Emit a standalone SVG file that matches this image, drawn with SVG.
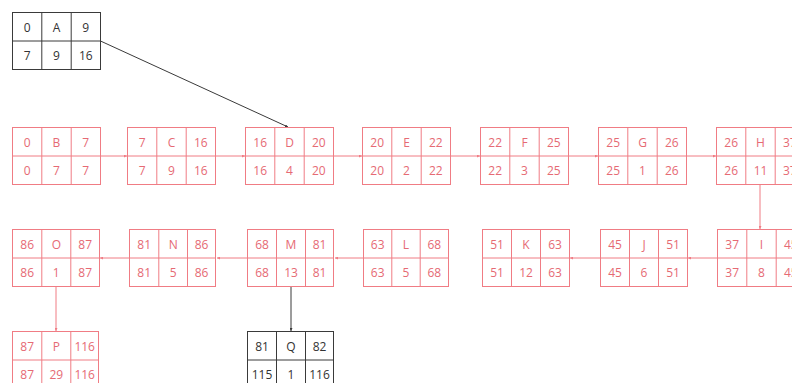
<svg xmlns="http://www.w3.org/2000/svg" width="792" height="383" viewBox="0 0 792 383">
<style>
  .bg{fill:#ffffff}
  .r rect,.r line{fill:none;stroke:#f07c84;stroke-width:1}
  .r text{fill:#e66a74}
  .k rect,.k line{fill:none;stroke:#3a3a3a;stroke-width:1}
  .k text{fill:#333333}
  text{font-family:"Open Sans","Noto Sans","Liberation Sans",sans-serif;font-size:12px;text-anchor:middle;dominant-baseline:central}
  .cr{stroke:#f07c84;stroke-width:1;fill:none;marker-end:url(#ar)}
  .ck{stroke:#3a3a3a;stroke-width:1;fill:none;marker-end:url(#ak)}
</style>
<defs>
  <marker id="ar" viewBox="0 0 6 6" refX="6" refY="3" markerWidth="3" markerHeight="3" orient="auto"><path d="M0,0 L6,3 L0,6 z" fill="#f07c84"/></marker>
  <marker id="ak" viewBox="0 0 6 6" refX="6" refY="3" markerWidth="3" markerHeight="3" orient="auto"><path d="M0,0 L6,3 L0,6 z" fill="#3a3a3a"/></marker>
</defs>
<rect class="bg" x="0" y="0" width="792" height="383"/>

<g id="connectors">
  <path class="ck" d="M100.5,41 L288,127"/>
  <path class="cr" d="M100.5,156 L127,156"/>
  <path class="cr" d="M215.5,156 L245,156"/>
  <path class="cr" d="M333.5,156 L362,156"/>
  <path class="cr" d="M450.5,156 L480,156"/>
  <path class="cr" d="M568.5,156 L598,156"/>
  <path class="cr" d="M686.5,156 L716,156"/>
  <path class="cr" d="M760,185 L760,229"/>
  <path class="cr" d="M717,258 L688,258"/>
  <path class="cr" d="M600,258 L570,258"/>
  <path class="cr" d="M363,258 L335,258"/>
  <path class="cr" d="M247,258 L217,258"/>
  <path class="cr" d="M129,258 L100,258"/>
  <path class="cr" d="M56,287 L56,331"/>
  <path class="ck" d="M291,287 L291,331"/>
</g>

<g id="node-A" class="k" transform="translate(12.5,12.5)">
  <rect width="88" height="57"/><line x1="0" y1="28.5" x2="88" y2="28.5"/><line x1="29.3" y1="0" x2="29.3" y2="57"/><line x1="58.7" y1="0" x2="58.7" y2="57"/>
  <text x="14.7" y="14.5">0</text><text x="44" y="14.5">A</text><text x="73.3" y="14.5">9</text>
  <text x="14.7" y="43">7</text><text x="44" y="43">9</text><text x="73.3" y="43">16</text>
</g>

<g id="node-B" class="r" transform="translate(12.5,127.5)">
  <rect width="88" height="57"/><line x1="0" y1="28.5" x2="88" y2="28.5"/><line x1="29.3" y1="0" x2="29.3" y2="57"/><line x1="58.7" y1="0" x2="58.7" y2="57"/>
  <text x="14.7" y="14.5">0</text><text x="44" y="14.5">B</text><text x="73.3" y="14.5">7</text>
  <text x="14.7" y="43">0</text><text x="44" y="43">7</text><text x="73.3" y="43">7</text>
</g>
<g id="node-C" class="r" transform="translate(127.5,127.5)">
  <rect width="88" height="57"/><line x1="0" y1="28.5" x2="88" y2="28.5"/><line x1="29.3" y1="0" x2="29.3" y2="57"/><line x1="58.7" y1="0" x2="58.7" y2="57"/>
  <text x="14.7" y="14.5">7</text><text x="44" y="14.5">C</text><text x="73.3" y="14.5">16</text>
  <text x="14.7" y="43">7</text><text x="44" y="43">9</text><text x="73.3" y="43">16</text>
</g>
<g id="node-D" class="r" transform="translate(245.5,127.5)">
  <rect width="88" height="57"/><line x1="0" y1="28.5" x2="88" y2="28.5"/><line x1="29.3" y1="0" x2="29.3" y2="57"/><line x1="58.7" y1="0" x2="58.7" y2="57"/>
  <text x="14.7" y="14.5">16</text><text x="44" y="14.5">D</text><text x="73.3" y="14.5">20</text>
  <text x="14.7" y="43">16</text><text x="44" y="43">4</text><text x="73.3" y="43">20</text>
</g>
<g id="node-E" class="r" transform="translate(362.5,127.5)">
  <rect width="88" height="57"/><line x1="0" y1="28.5" x2="88" y2="28.5"/><line x1="29.3" y1="0" x2="29.3" y2="57"/><line x1="58.7" y1="0" x2="58.7" y2="57"/>
  <text x="14.7" y="14.5">20</text><text x="44" y="14.5">E</text><text x="73.3" y="14.5">22</text>
  <text x="14.7" y="43">20</text><text x="44" y="43">2</text><text x="73.3" y="43">22</text>
</g>
<g id="node-F" class="r" transform="translate(480.5,127.5)">
  <rect width="88" height="57"/><line x1="0" y1="28.5" x2="88" y2="28.5"/><line x1="29.3" y1="0" x2="29.3" y2="57"/><line x1="58.7" y1="0" x2="58.7" y2="57"/>
  <text x="14.7" y="14.5">22</text><text x="44" y="14.5">F</text><text x="73.3" y="14.5">25</text>
  <text x="14.7" y="43">22</text><text x="44" y="43">3</text><text x="73.3" y="43">25</text>
</g>
<g id="node-G" class="r" transform="translate(598.5,127.5)">
  <rect width="88" height="57"/><line x1="0" y1="28.5" x2="88" y2="28.5"/><line x1="29.3" y1="0" x2="29.3" y2="57"/><line x1="58.7" y1="0" x2="58.7" y2="57"/>
  <text x="14.7" y="14.5">25</text><text x="44" y="14.5">G</text><text x="73.3" y="14.5">26</text>
  <text x="14.7" y="43">25</text><text x="44" y="43">1</text><text x="73.3" y="43">26</text>
</g>
<g id="node-H" class="r" transform="translate(716.5,127.5)">
  <rect width="88" height="57"/><line x1="0" y1="28.5" x2="88" y2="28.5"/><line x1="29.3" y1="0" x2="29.3" y2="57"/><line x1="58.7" y1="0" x2="58.7" y2="57"/>
  <text x="14.7" y="14.5">26</text><text x="44" y="14.5">H</text><text x="73.3" y="14.5">37</text>
  <text x="14.7" y="43">26</text><text x="44" y="43">11</text><text x="73.3" y="43">37</text>
</g>

<g id="node-I" class="r" transform="translate(717.5,229.5)">
  <rect width="88" height="57"/><line x1="0" y1="28.5" x2="88" y2="28.5"/><line x1="29.3" y1="0" x2="29.3" y2="57"/><line x1="58.7" y1="0" x2="58.7" y2="57"/>
  <text x="14.7" y="14.5">37</text><text x="44" y="14.5">I</text><text x="73.3" y="14.5">45</text>
  <text x="14.7" y="43">37</text><text x="44" y="43">8</text><text x="73.3" y="43">45</text>
</g>
<g id="node-J" class="r" transform="translate(600.5,229.5)">
  <rect width="87" height="57"/><line x1="0" y1="28.5" x2="87" y2="28.5"/><line x1="29" y1="0" x2="29" y2="57"/><line x1="58" y1="0" x2="58" y2="57"/>
  <text x="14.5" y="14.5">45</text><text x="43.5" y="14.5">J</text><text x="72.5" y="14.5">51</text>
  <text x="14.5" y="43">45</text><text x="43.5" y="43">6</text><text x="72.5" y="43">51</text>
</g>
<g id="node-K" class="r" transform="translate(482.5,229.5)">
  <rect width="87" height="57"/><line x1="0" y1="28.5" x2="87" y2="28.5"/><line x1="29" y1="0" x2="29" y2="57"/><line x1="58" y1="0" x2="58" y2="57"/>
  <text x="14.5" y="14.5">51</text><text x="43.5" y="14.5">K</text><text x="72.5" y="14.5">63</text>
  <text x="14.5" y="43">51</text><text x="43.5" y="43">12</text><text x="72.5" y="43">63</text>
</g>
<g id="node-L" class="r" transform="translate(363.5,229.5)">
  <rect width="85" height="57"/><line x1="0" y1="28.5" x2="85" y2="28.5"/><line x1="28.3" y1="0" x2="28.3" y2="57"/><line x1="56.7" y1="0" x2="56.7" y2="57"/>
  <text x="14.2" y="14.5">63</text><text x="42.5" y="14.5">L</text><text x="70.8" y="14.5">68</text>
  <text x="14.2" y="43">63</text><text x="42.5" y="43">5</text><text x="70.8" y="43">68</text>
</g>
<g id="node-M" class="r" transform="translate(247.5,229.5)">
  <rect width="86" height="57"/><line x1="0" y1="28.5" x2="86" y2="28.5"/><line x1="29" y1="0" x2="29" y2="57"/><line x1="58" y1="0" x2="58" y2="57"/>
  <text x="14.5" y="14.5">68</text><text x="43.5" y="14.5">M</text><text x="72" y="14.5">81</text>
  <text x="14.5" y="43">68</text><text x="43.5" y="43">13</text><text x="72" y="43">81</text>
</g>
<g id="node-N" class="r" transform="translate(129.5,229.5)">
  <rect width="86" height="57"/><line x1="0" y1="28.5" x2="86" y2="28.5"/><line x1="29.3" y1="0" x2="29.3" y2="57"/><line x1="58" y1="0" x2="58" y2="57"/>
  <text x="14.7" y="14.5">81</text><text x="43.7" y="14.5">N</text><text x="72" y="14.5">86</text>
  <text x="14.7" y="43">81</text><text x="43.7" y="43">5</text><text x="72" y="43">86</text>
</g>
<g id="node-O" class="r" transform="translate(12.5,229.5)">
  <rect width="87" height="57"/><line x1="0" y1="28.5" x2="87" y2="28.5"/><line x1="29.3" y1="0" x2="29.3" y2="57"/><line x1="58.3" y1="0" x2="58.3" y2="57"/>
  <text x="14.7" y="14.5">86</text><text x="43.8" y="14.5">O</text><text x="72.7" y="14.5">87</text>
  <text x="14.7" y="43">86</text><text x="43.8" y="43">1</text><text x="72.7" y="43">87</text>
</g>

<g id="node-P" class="r" transform="translate(12.5,331.5)">
  <rect width="86" height="57"/><line x1="0" y1="28.5" x2="86" y2="28.5"/><line x1="29.3" y1="0" x2="29.3" y2="57"/><line x1="58.3" y1="0" x2="58.3" y2="57"/>
  <text x="14.7" y="14.5">87</text><text x="43.8" y="14.5">P</text><text x="72.2" y="14.5">116</text>
  <text x="14.7" y="43">87</text><text x="43.8" y="43">29</text><text x="72.2" y="43">116</text>
</g>
<g id="node-Q" class="k" transform="translate(247.5,331.5)">
  <rect width="86" height="57"/><line x1="0" y1="28.5" x2="86" y2="28.5"/><line x1="29" y1="0" x2="29" y2="57"/><line x1="58" y1="0" x2="58" y2="57"/>
  <text x="14.5" y="14.5">81</text><text x="43.5" y="14.5">Q</text><text x="72" y="14.5">82</text>
  <text x="14.5" y="43">115</text><text x="43.5" y="43">1</text><text x="72" y="43">116</text>
</g>
</svg>
